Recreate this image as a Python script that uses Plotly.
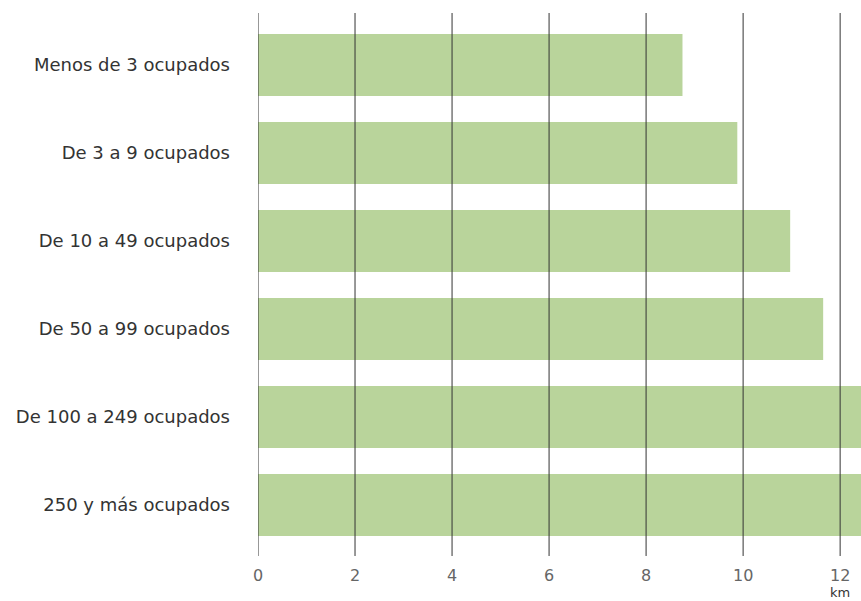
import plotly.graph_objects as go

categories = ["Menos de 3 ocupados", "De 3 a 9 ocupados", "De 10 a 49 ocupados",
              "De 50 a 99 ocupados", "De 100 a 249 ocupados", "250 y más ocupados"]
values = [8.75, 9.88, 10.97, 11.65, 12.7, 12.8]
tick_vals = [0, 2, 4, 6, 8, 10, 12]
tick_text = ["0", "2", "4", "6", "8", "10", "12"]
unit_label = "km"

fig = go.Figure(go.Bar(
    y=categories, x=values, orientation="h",
    marker=dict(color="#b9d49b", line=dict(width=0)),
    width=0.705,
))

shapes = [dict(type="line", xref="x", yref="paper", x0=v, x1=v, y0=-0.0284, y1=1,
               line=dict(color="#333333", width=1), layer="above") for v in tick_vals]

fig.update_layout(
    width=861, height=601,
    margin=dict(l=258, r=0, t=13, b=60),
    plot_bgcolor="white", paper_bgcolor="white",
    showlegend=False,
    shapes=shapes,
    font=dict(family="DejaVu Sans", color="#333333"),
    xaxis=dict(range=[0, 12.43], tickvals=tick_vals, ticktext=tick_text,
               showgrid=False, zeroline=False, showline=False, ticks="",
               ticklabelstandoff=23,
               tickfont=dict(size=16, color="#666666")),
    yaxis=dict(categoryorder="array", categoryarray=categories,
               range=[5.41, -0.59], showgrid=False, zeroline=False, showline=False,
               ticks="", ticklabelstandoff=27,
               tickfont=dict(size=18, color="#333333")),
    annotations=[dict(text=unit_label, xref="x", yref="paper", x=12, y=-0.1136,
                      xanchor="center", yanchor="bottom", showarrow=False,
                      borderpad=0,
                      font=dict(size=13, color="#333333"))],
)

fig.write_html("out.html",
               config={"displayModeBar": False},
               post_script="document.body.style.margin='0';document.body.style.overflow='hidden';")
